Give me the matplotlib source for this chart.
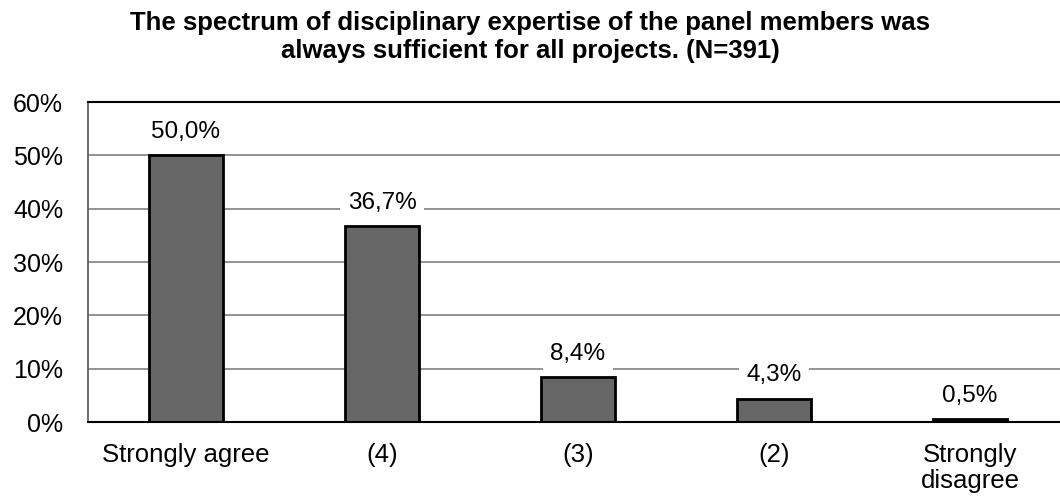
import numpy as np
import matplotlib.pyplot as plt

plt.rcParams['font.family'] = ['Liberation Sans', 'DejaVu Sans']

categories = ['Strongly agree', '(4)', '(3)', '(2)', 'Strongly\ndisagree']
shares = [50.0, 36.7, 8.4, 4.3, 0.5]
yticks = [0, 10, 20, 30, 40, 50, 60]
title = ('The spectrum of disciplinary expertise of the panel members was\n'
         'always sufficient for all projects. (N=391)')

fig = plt.figure(figsize=(10.6, 4.98), dpi=100)
# plot area runs past the right edge of the picture, like the original
ax = fig.add_axes([88/1060, 76/498, 980/1060, 320/498])

x = np.arange(len(categories))
ax.bar(x, shares, width=0.38, color='#666666', edgecolor='black', linewidth=2, zorder=3)

ax.set_xlim(-0.5, len(categories) - 0.5)
ax.set_ylim(0, 60)
ax.set_yticks(yticks)
ax.set_yticklabels([f'{t}%' for t in yticks])
ax.set_xticks(x)
ax.set_xticklabels(categories, linespacing=1.1)
ax.tick_params(axis='both', length=0, labelsize=18)
ax.tick_params(axis='x', labelsize=18.5, pad=15)
ax.tick_params(axis='y', pad=18)
for lab in ax.get_xticklabels():
    lab.set_verticalalignment('top')

ax.grid(axis='y', color='#808080', linewidth=1.2, zorder=0)
ax.spines['top'].set_color('black')
ax.spines['top'].set_linewidth(1.5)
ax.spines['bottom'].set_color('black')
ax.spines['bottom'].set_linewidth(1.5)
ax.spines['bottom'].set_zorder(4)
ax.spines['left'].set_color('#555555')
ax.spines['left'].set_linewidth(1.2)
ax.spines['right'].set_visible(False)

for xi, v in zip(x, shares):
    ax.annotate(f'{v:.1f}%'.replace('.', ','), (xi, v), xytext=(0, 17),
                textcoords='offset points', ha='center', va='center', fontsize=17.5,
                bbox=dict(boxstyle='square,pad=0.3', fc='white', ec='none'), zorder=5)

fig.text(0.5, 0.925, title, ha='center', va='center', fontsize=18.5,
         fontweight='bold', linespacing=1.2)

fig.savefig('out.png', dpi=100)
